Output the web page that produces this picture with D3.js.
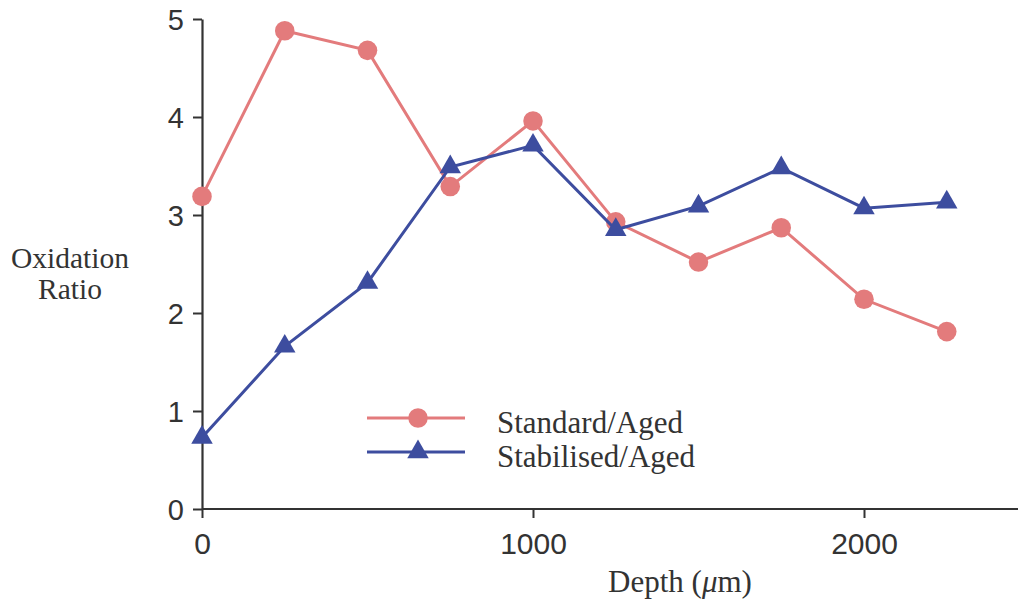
<!DOCTYPE html>
<html>
<head>
<meta charset="utf-8">
<script src="https://cdn.jsdelivr.net/npm/d3@7"></script>
<style>
  html, body { margin: 0; padding: 0; background: #fff; }
  svg { display: block; }
</style>
</head>
<body>
<svg id="chart" width="1018" height="603"></svg>
<script>
// Depth profile of oxidation ratio for the two sample sets
const depths = [0, 250, 500, 750, 1000, 1250, 1500, 1750, 2000, 2250];
const standardAged = [3.19, 4.88, 4.68, 3.29, 3.96, 2.93, 2.52, 2.87, 2.14, 1.81];
const stabilisedAged = [0.73, 1.66, 2.31, 3.49, 3.71, 2.85, 3.09, 3.48, 3.07, 3.13];
const xTicks = [0, 1000, 2000];
const yTicks = [0, 1, 2, 3, 4, 5];
const seriesNames = ["Standard/Aged", "Stabilised/Aged"];

const svg = d3.select("#chart");
const axisColor = "#333";
const red = "#e37b7c";
const blue = "#3d4d9f";

const x = d3.scaleLinear().domain([0, 2000]).range([202, 864]);
const y = d3.scaleLinear().domain([0, 5]).range([509, 19]);

// Axes
const xAxis = svg.append("g")
  .attr("transform", `translate(0,${y(0)})`)
  .call(d3.axisBottom(x).tickValues(xTicks).tickFormat(d3.format("d"))
    .tickSize(9).tickPadding(14).tickSizeOuter(0));
xAxis.select(".domain").attr("d", `M${x(0)},0H1018`);

const yAxis = svg.append("g")
  .attr("transform", `translate(${x(0)},0)`)
  .call(d3.axisLeft(y).tickValues(yTicks).tickFormat(d3.format("d"))
    .tickSize(9).tickPadding(9).tickSizeOuter(0));

[xAxis, yAxis].forEach(g => {
  g.select(".domain").attr("stroke", axisColor).attr("stroke-width", 2.2);
  g.selectAll(".tick line").attr("stroke", axisColor).attr("stroke-width", 2);
  g.selectAll(".tick text")
    .attr("fill", "#333")
    .style("font-family", "'Liberation Sans', Arial, sans-serif");
});
yAxis.selectAll(".tick text").attr("dy", "0.36em").style("font-size", "29px");
xAxis.selectAll(".tick text").attr("dy", "0.72em").style("font-size", "30px");

// Axis titles
const serif = "'Liberation Serif', 'Times New Roman', serif";
const yTitle = svg.append("text")
  .attr("text-anchor", "middle")
  .attr("fill", "#333")
  .style("font-family", serif)
  .style("font-size", "29.5px");
yTitle.append("tspan").attr("x", 70).attr("y", 268).text("Oxidation");
yTitle.append("tspan").attr("x", 70).attr("y", 299).text("Ratio");

const xTitle = svg.append("text")
  .attr("x", 680).attr("y", 592)
  .attr("text-anchor", "middle")
  .attr("fill", "#333")
  .style("font-family", serif)
  .style("font-size", "31px");
xTitle.append("tspan").text("Depth (");
xTitle.append("tspan").style("font-style", "italic").text("μ");
xTitle.append("tspan").text("m)");

// Series
const series = [
  { name: seriesNames[0], values: standardAged, color: red, symbol: d3.symbolCircle, size: 300 },
  { name: seriesNames[1], values: stabilisedAged, color: blue, symbol: d3.symbolTriangle, size: 200 }
];

const line = d3.line().x(d => x(d[0])).y(d => y(d[1]));

series.forEach(s => {
  const pts = depths.map((d, i) => [d, s.values[i]]);
  svg.append("path")
    .datum(pts)
    .attr("d", line)
    .attr("fill", "none")
    .attr("stroke", s.color)
    .attr("stroke-width", 3);
  svg.append("g").selectAll("path")
    .data(pts)
    .join("path")
    .attr("transform", d => `translate(${x(d[0])},${y(d[1])})`)
    .attr("d", d3.symbol().type(s.symbol).size(s.size))
    .attr("fill", s.color);
});

// Legend
const legend = svg.append("g");
series.forEach((s, i) => {
  const ly = 418 + i * 34;
  legend.append("line")
    .attr("x1", 367).attr("x2", 465)
    .attr("y1", ly).attr("y2", ly)
    .attr("stroke", s.color).attr("stroke-width", 3);
  legend.append("path")
    .attr("transform", `translate(418,${ly})`)
    .attr("d", d3.symbol().type(s.symbol).size(s.size))
    .attr("fill", s.color);
  legend.append("text")
    .attr("x", 497).attr("y", ly + 15)
    .attr("fill", "#333")
    .style("font-family", serif)
    .style("font-size", "31px")
    .text(s.name);
});
</script>
</body>
</html>
